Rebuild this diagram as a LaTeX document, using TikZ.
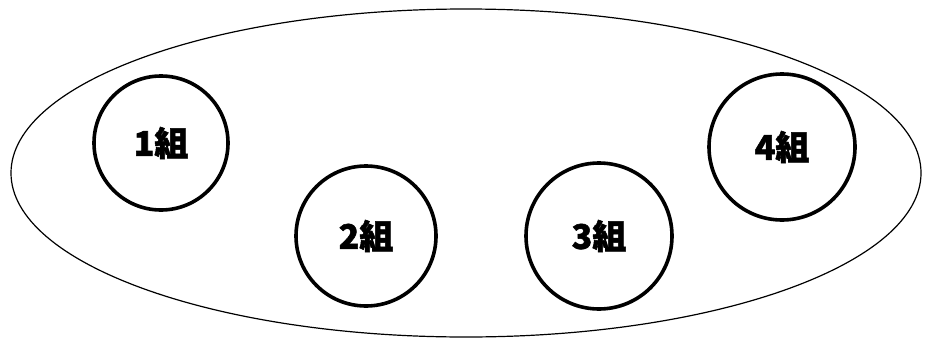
\documentclass[tikz,border=0pt]{standalone}
\usepackage{fontspec}
\usepackage{tikz}
\newfontfamily\cjkfont[BoldFeatures={FakeBold=1.6}]{Noto Sans CJK JP}
\usetikzlibrary{shapes.geometric, positioning}

\begin{document}
\begin{tikzpicture}[
x=1pt, y=-1pt,
outer/.style={draw, ellipse, line width=1.2pt, minimum width=910pt, minimum height=328pt, inner sep=0pt},
group/.style={draw, circle, line width=3.6pt, minimum size=140pt, inner sep=0pt,
  font=\cjkfont\bfseries\fontsize{34}{34}\selectfont}
]
\useasboundingbox (0,0) rectangle (925,340);

% --- Ellipse ---
\node[outer] (all) at (466,173) {};

% --- Groupes ---
\node[group, minimum size=134pt] (g1) at (161,143) {1組};
\node[group] (g2) at (366,236) {2組};
\node[group, minimum size=146pt] (g3) at (599,236) {3組};
\node[group, minimum size=146pt] (g4) at (782,147) {4組};

\end{tikzpicture}
\end{document}
